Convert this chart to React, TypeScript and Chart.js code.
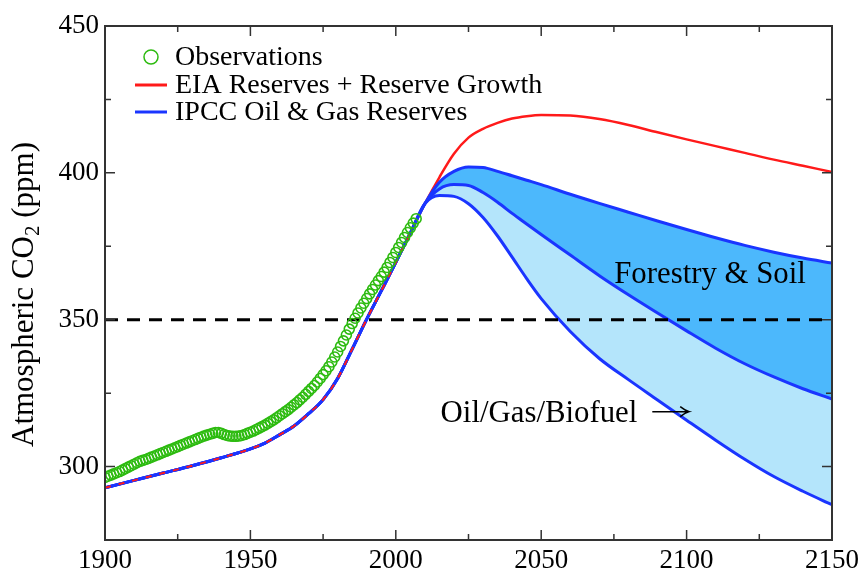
import React, { useEffect, useRef } from 'react';
import { Chart, registerables } from 'chart.js';

Chart.register(...registerables);

// ---------------- data ----------------
const obsStartYear = 1900;
const obsCO2 = [
  296.3, 296.7, 297.1, 297.5, 297.9, 298.3, 298.8, 299.3, 299.8, 300.3,
  300.8, 301.3, 301.8, 302.1, 302.4, 302.8, 303.2, 303.6, 304.0, 304.4,
  304.8, 305.2, 305.6, 306.0, 306.4, 306.8, 307.2, 307.6, 308.0, 308.4,
  308.8, 309.2, 309.6, 310.0, 310.4, 310.7, 311.0, 311.3, 311.6, 311.6,
  311.3, 310.9, 310.6, 310.4, 310.3, 310.3, 310.4, 310.6, 310.9, 311.3,
  311.7, 312.1, 312.6, 313.1, 313.6, 314.1, 314.7, 315.3, 315.9, 316.6,
  317.3, 318.0, 318.7, 319.4, 320.2, 321.0, 321.8, 322.7, 323.6, 324.6,
  325.6, 326.6, 327.6, 328.8, 330.0, 331.3, 332.6, 334.0, 335.6, 337.3,
  339.0, 340.9, 342.8, 344.8, 346.8, 348.7, 350.5, 352.3, 354.0, 355.6,
  357.2, 358.8, 360.3, 361.8, 363.3, 364.7, 366.2, 367.8, 369.5, 371.2,
  372.9, 374.6, 376.3, 378.0, 379.7, 381.3, 382.9, 384.4,
];

const histYears = [1900, 1910, 1920, 1930, 1940, 1950, 1955, 1960, 1965, 1970, 1975, 1980, 1985, 1990, 1995, 2000, 2005];
const histCO2 = [292.8, 295.3, 297.8, 300.3, 303.0, 306.0, 308.0, 310.8, 313.8, 318.0, 322.8, 330.0, 340.0, 350.2, 359.8, 369.5, 379.5];

const futureYears = [2010, 2015, 2020, 2025, 2030, 2035, 2040, 2045, 2050, 2060, 2070, 2080, 2090, 2100, 2110, 2120, 2130, 2140, 2150];
const eiaFuture = [389.5, 398.5, 406.5, 412.0, 415.0, 417.0, 418.5, 419.3, 419.7, 419.5, 418.3, 416.3, 413.8, 411.4, 409.1, 406.8, 404.5, 402.4, 400.3];
const ipccHighFuture = [389.5, 396.8, 400.5, 402.0, 401.8, 400.5, 399.0, 397.5, 396.0, 392.7, 389.6, 386.6, 383.6, 380.7, 377.9, 375.3, 373.0, 371.0, 369.3];
const ipccMidFuture = [389.5, 394.5, 396.0, 395.7, 393.3, 390.0, 386.2, 382.6, 379.0, 372.0, 365.0, 358.5, 352.3, 346.2, 340.3, 335.0, 330.5, 326.5, 323.0];
const ipccLowFuture = [389.5, 392.3, 392.0, 389.5, 384.8, 378.5, 371.3, 364.0, 357.2, 346.0, 336.8, 329.6, 322.7, 315.8, 309.0, 302.5, 296.6, 291.6, 287.0];

const targetLevel = 350;

const xMin = 1900;
const xMax = 2150;
const yMin = 275;
const yMax = 450;
const xTickLabels = [1900, 1950, 2000, 2050, 2100, 2150];
const yTickLabels = [300, 350, 400, 450];
const minorStep = 25;

const legendLabels = ['Observations', 'EIA Reserves + Reserve Growth', 'IPCC Oil & Gas Reserves'];
const forestryLabel = 'Forestry & Soil';
const oilLabel = 'Oil/Gas/Biofuel';

// ---------------- styles ----------------
const SERIF = "'Liberation Serif', 'Times New Roman', serif";
const RED = '#ff1a1a';
const BLUE = '#1a35ff';
const GREEN = '#2dbb10';
const FILL_DARK = '#4cb8fc';
const FILL_LIGHT = '#b4e5fb';
const AXIS = '#333333';

export default function App() {
  const ref = useRef<HTMLCanvasElement>(null);

  useEffect(() => {
    const canvas = ref.current;
    if (!canvas) return;

    const modelYears = [...histYears, ...futureYears];
    const toPts = (xs: number[], ys: number[]) => xs.map((x, i) => ({ x, y: ys[i] }));
    const obsPts = obsCO2.map((v, i) => ({ x: obsStartYear + i, y: v }));

    const decor = {
      id: 'decor',
      afterDraw(chart: any) {
        const { ctx, chartArea: a, scales } = chart;
        const xs = scales.x;
        const ys = scales.y;
        ctx.save();

        // frame
        ctx.strokeStyle = AXIS;
        ctx.lineWidth = 2;
        ctx.strokeRect(a.left, a.top, a.right - a.left, a.bottom - a.top);

        // inward ticks on all sides
        ctx.lineWidth = 1.5;
        ctx.beginPath();
        for (let v = xMin; v <= xMax; v += minorStep) {
          const len = v % 50 === 0 ? 10 : 6;
          const px = xs.getPixelForValue(v);
          ctx.moveTo(px, a.bottom);
          ctx.lineTo(px, a.bottom - len);
          ctx.moveTo(px, a.top);
          ctx.lineTo(px, a.top + len);
        }
        for (let v = yMin; v <= yMax; v += minorStep) {
          const len = v % 50 === 0 ? 10 : 6;
          const py = ys.getPixelForValue(v);
          ctx.moveTo(a.left, py);
          ctx.lineTo(a.left + len, py);
          ctx.moveTo(a.right, py);
          ctx.lineTo(a.right - len, py);
        }
        ctx.stroke();

        // y axis title with subscript
        ctx.fillStyle = '#000';
        ctx.save();
        ctx.translate(33, 447);
        ctx.rotate(-Math.PI / 2);
        ctx.textBaseline = 'alphabetic';
        ctx.textAlign = 'left';
        ctx.font = `31px ${SERIF}`;
        const p1 = 'Atmospheric CO';
        ctx.fillText(p1, 0, 0);
        let w = ctx.measureText(p1).width;
        ctx.font = `21px ${SERIF}`;
        ctx.fillText('2', w, 6);
        w += ctx.measureText('2').width;
        ctx.font = `31px ${SERIF}`;
        ctx.fillText(' (ppm)', w, 0);
        ctx.restore();

        // legend
        const lx = a.left + 30;
        const tx = a.left + 70;
        const rows = [a.top + 31, a.top + 59, a.top + 86];
        ctx.strokeStyle = GREEN;
        ctx.lineWidth = 1.5;
        ctx.beginPath();
        ctx.arc(lx + 16, rows[0], 7, 0, Math.PI * 2);
        ctx.stroke();
        ctx.lineWidth = 3;
        ctx.strokeStyle = RED;
        ctx.beginPath();
        ctx.moveTo(lx, rows[1]);
        ctx.lineTo(lx + 32, rows[1]);
        ctx.stroke();
        ctx.strokeStyle = BLUE;
        ctx.beginPath();
        ctx.moveTo(lx, rows[2]);
        ctx.lineTo(lx + 32, rows[2]);
        ctx.stroke();
        ctx.font = `28px ${SERIF}`;
        ctx.textBaseline = 'middle';
        ctx.textAlign = 'left';
        ctx.fillStyle = '#000';
        legendLabels.forEach((t, i) => ctx.fillText(t, tx, rows[i] + 1));

        // annotations
        ctx.font = `30.8px ${SERIF}`;
        ctx.textBaseline = 'alphabetic';
        ctx.fillText(forestryLabel, xs.getPixelForValue(2075.1), ys.getPixelForValue(362.5));
        ctx.fillText(oilLabel, xs.getPixelForValue(2015.4), ys.getPixelForValue(315.2));

        // arrow
        const ax0 = xs.getPixelForValue(2088.2);
        const ax1 = xs.getPixelForValue(2100.9);
        const ay = ys.getPixelForValue(318.7);
        ctx.strokeStyle = '#000';
        ctx.lineWidth = 1.5;
        ctx.beginPath();
        ctx.moveTo(ax0, ay);
        ctx.lineTo(ax1, ay);
        ctx.moveTo(ax1 - 9, ay - 5);
        ctx.quadraticCurveTo(ax1 - 4, ay - 1, ax1, ay);
        ctx.quadraticCurveTo(ax1 - 4, ay + 1, ax1 - 9, ay + 5);
        ctx.stroke();

        ctx.restore();
      },
    };

    const chart = new Chart(canvas, {
      type: 'line',
      data: {
        datasets: [
          {
            label: 'Observations',
            data: obsPts,
            showLine: false,
            pointRadius: 5,
            pointBorderWidth: 1.6,
            pointBorderColor: GREEN,
            pointBackgroundColor: 'rgba(0,0,0,0)',
            order: 0,
          },
          {
            label: 'EIA hist',
            data: toPts(histYears, histCO2),
            borderColor: RED,
            borderWidth: 2,
            borderDash: [6, 8],
            pointRadius: 0,
            cubicInterpolationMode: 'monotone',
            order: 1,
          },
          {
            label: 'target',
            data: [{ x: xMin, y: targetLevel }, { x: xMax, y: targetLevel }],
            borderColor: '#000',
            borderWidth: 3,
            borderDash: [13, 9],
            pointRadius: 0,
            order: 2,
          },
          {
            label: 'IPCC high',
            data: toPts(modelYears, [...histCO2, ...ipccHighFuture]),
            borderColor: BLUE,
            borderWidth: 3,
            pointRadius: 0,
            fill: '+1',
            backgroundColor: FILL_DARK,
            cubicInterpolationMode: 'monotone',
            order: 3,
          },
          {
            label: 'IPCC mid',
            data: toPts(modelYears, [...histCO2, ...ipccMidFuture]),
            borderColor: BLUE,
            borderWidth: 3,
            pointRadius: 0,
            fill: '+1',
            backgroundColor: FILL_LIGHT,
            cubicInterpolationMode: 'monotone',
            order: 3,
          },
          {
            label: 'IPCC low',
            data: toPts(modelYears, [...histCO2, ...ipccLowFuture]),
            borderColor: BLUE,
            borderWidth: 3,
            pointRadius: 0,
            fill: false,
            cubicInterpolationMode: 'monotone',
            order: 3,
          },
          {
            label: 'EIA',
            data: toPts(modelYears, [...histCO2, ...eiaFuture]),
            borderColor: RED,
            borderWidth: 2.5,
            pointRadius: 0,
            fill: false,
            cubicInterpolationMode: 'monotone',
            order: 5,
          },
        ],
      },
      options: {
        animation: false,
        responsive: true,
        maintainAspectRatio: false,
        layout: { padding: { top: 26, right: 31, left: 0, bottom: 0 } },
        plugins: {
          legend: { display: false },
          tooltip: { enabled: false },
          filler: { drawTime: 'beforeDatasetsDraw' },
        } as any,
        scales: {
          x: {
            type: 'linear',
            min: xMin,
            max: xMax,
            grid: { display: false, drawTicks: false },
            border: { display: false },
            afterBuildTicks: (s: any) => {
              s.ticks = xTickLabels.map((v) => ({ value: v }));
            },
            afterFit: (s: any) => {
              s.height = 29;
            },
            ticks: {
              autoSkip: false,
              maxRotation: 0,
              padding: 5,
              color: '#000',
              font: { family: SERIF, size: 27 },
              callback: (v: any) => String(v),
            },
          },
          y: {
            type: 'linear',
            min: yMin,
            max: yMax,
            grid: { display: false, drawTicks: false },
            border: { display: false },
            afterBuildTicks: (s: any) => {
              s.ticks = yTickLabels.map((v) => ({ value: v }));
            },
            afterFit: (s: any) => {
              s.width = 105;
            },
            ticks: {
              padding: 6,
              color: '#000',
              font: { family: SERIF, size: 27 },
              callback: (v: any) => String(v),
            },
          },
        },
      },
      plugins: [decor],
    });

    return () => chart.destroy();
  }, []);

  return (
    <div style={{ position: 'fixed', left: 0, top: 0, width: 864, height: 569, background: '#fff' }}>
      <canvas ref={ref} />
    </div>
  );
}
